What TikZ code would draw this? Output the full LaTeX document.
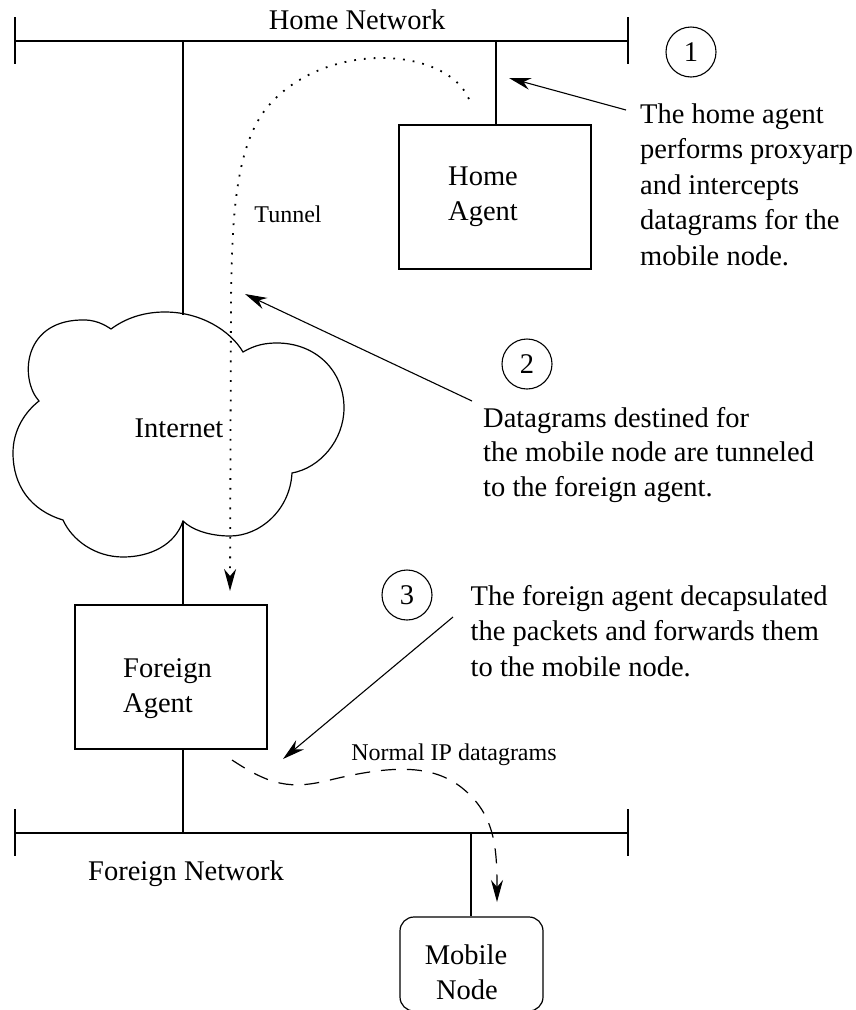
\documentclass[tikz,border=0pt]{standalone}
\usepackage{fontspec}
\setmainfont{Liberation Serif}
\usetikzlibrary{arrows.meta}
\tikzset{
  big/.style={font=\fontsize{28.5}{35.5}\selectfont, inner sep=0pt},
  small/.style={font=\fontsize{24}{29}\selectfont, inner sep=0pt},
  wire/.style={line width=1.2pt},
  box/.style={draw, line width=1.2pt, rectangle, inner sep=0pt},
  num/.style={draw, circle, line width=1.1pt, minimum size=50pt, inner sep=0pt, font=\fontsize{28.5}{34}\selectfont},
  tip/.style={-{Stealth[length=22pt,width=12pt,inset=7pt]}},
  pointer/.style={tip, line width=1.1pt},
}
\begin{document}
\begin{tikzpicture}[x=1pt,y=-1pt]
\useasboundingbox (0,0) rectangle (856,1010);

% Home network
\coordinate (hnl) at (15,41);
\coordinate (hnr) at (628,41);
\draw[wire] (hnl) -- (hnr);
\draw[wire] (15,17) -- (15,64);
\draw[wire] (628,17) -- (628,64);
\node[big, anchor=base] (hn) at (357,29) {Home Network};

% Home agent
\node[box, minimum width=192pt, minimum height=144pt] (ha) at (495,197) {};
\node[big, anchor=base west] (hat) at (448,185) {Home};
\node[big, anchor=base west] (hat2) at (448,220) {Agent};
\coordinate (hatap) at (496,41);
\draw[wire] (hatap) -- (ha.north -| hatap);

% Cloud
\coordinate (ctop) at (183,315);
\coordinate (cbot) at (183,521);
\draw[wire] (39,401) .. controls (20,380) and (22,322) .. (80,320)
  .. controls (95,319) and (105,325) .. (111,329)
  .. controls (130,315) and (150,312) .. (165,312)
  .. controls (200,312) and (230,330) .. (243,352)
  .. controls (255,345) and (265,343) .. (277,343)
  .. controls (315,343) and (344,370) .. (344,408)
  .. controls (344,440) and (320,468) .. (292,473)
  .. controls (290,510) and (260,536) .. (230,536)
  .. controls (210,536) and (192,530) .. (183,521)
  .. controls (175,545) and (150,557) .. (123,557)
  .. controls (95,557) and (72,540) .. (63,520)
  .. controls (30,510) and (13,485) .. (13,453)
  .. controls (13,430) and (25,412) .. (39,401) -- cycle;
\node[big, anchor=base] (inet) at (179,437) {Internet};
\coordinate (hntap) at (183,41);
\draw[wire] (hntap) -- (ctop);

% Foreign agent
\node[box, minimum width=192pt, minimum height=144pt] (fa) at (171,677) {};
\node[big, anchor=base west] (fat) at (123,677) {Foreign};
\node[big, anchor=base west] (fat2) at (123,712) {Agent};
\draw[wire] (cbot) -- (cbot |- fa.north);
\coordinate (fntap) at (183,833);
\draw[wire] (fntap |- fa.south) -- (fntap);

% Foreign network
\coordinate (fnl) at (15,833);
\coordinate (fnr) at (628,833);
\draw[wire] (fnl) -- (fnr);
\draw[wire] (15,809) -- (15,856);
\draw[wire] (628,809) -- (628,856);
\node[big, anchor=base] (fn) at (186,880) {Foreign Network};

% Mobile node
\node[draw, line width=1.2pt, rounded corners=14pt, minimum width=143pt, minimum height=94pt, inner sep=0pt] (mn) at (471.5,964) {};
\node[big, anchor=base] (mnt) at (466,964) {Mobile};
\node[big, anchor=base] (mnt2) at (467,999) {Node};
\coordinate (mntap) at (471,833);
\draw[wire] (mntap) -- (mntap |- mn.north);

% Tunnel
\coordinate (tstart) at (469,99);
\coordinate (tend) at (230,591);
\draw[line width=1.8pt, dash pattern=on 1.8pt off 8pt, tip]
  (tstart) .. controls (445,45) and (320,40) .. (265,110)
  .. controls (235,150) and (232,220) .. (231,300) -- (tend);
\node[small, anchor=base] (tun) at (288,222) {Tunnel};

% Numbered notes
\node[num] (n1) at (691,52) {1};
\node[big, anchor=base west] (t1a) at (640,123) {The home agent};
\node[big, anchor=base west] (t1b) at (640,158.5) {performs proxyarp};
\node[big, anchor=base west] (t1c) at (640,194) {and intercepts};
\node[big, anchor=base west] (t1d) at (640,229.5) {datagrams for the};
\node[big, anchor=base west] (t1e) at (640,265) {mobile node.};
\coordinate (a1s) at (626,110);
\coordinate (a1e) at (509,78);
\draw[pointer] (a1s) -- (a1e);

\node[num] (n2) at (527,364) {2};
\node[big, anchor=base west] (t2a) at (483,427) {Datagrams destined for};
\node[big, anchor=base west] (t2b) at (483,461.5) {the mobile node are tunneled};
\node[big, anchor=base west] (t2c) at (483,496) {to the foreign agent.};
\coordinate (a2s) at (472,401);
\coordinate (a2e) at (245,294);
\draw[pointer] (a2s) -- (a2e);

\node[num] (n3) at (407,595) {3};
\node[big, anchor=base west] (t3a) at (470.5,605) {The foreign agent decapsulated};
\node[big, anchor=base west] (t3b) at (470.5,640.5) {the packets and forwards them};
\node[big, anchor=base west] (t3c) at (470.5,676) {to the mobile node.};
\coordinate (a3s) at (453,617);
\coordinate (a3e) at (283,759);
\draw[pointer] (a3s) -- (a3e);

% Normal IP datagrams
\node[small, anchor=base] (nip) at (454,760) {Normal IP datagrams};
\coordinate (dstart) at (232,760);
\coordinate (dend) at (497,902);
\draw[line width=1.2pt, dash pattern=on 15pt off 11pt, tip]
  (dstart) .. controls (270,785) and (290,790) .. (330,780)
  .. controls (400,763) and (440,765) .. (470,795)
  .. controls (495,820) and (497,850) .. (dend);
\end{tikzpicture}
\end{document}
